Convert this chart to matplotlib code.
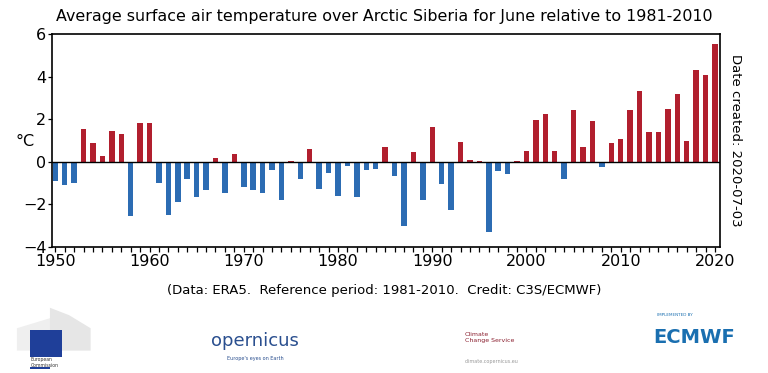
import numpy as np
import matplotlib.pyplot as plt
from matplotlib.patches import Rectangle, Polygon

# June anomalies (°C) relative to 1981-2010
years = list(range(1950, 2021))
anomaly = [
    -0.91, -1.10, -1.00, 1.56, 0.87, 0.27, 1.45, 1.32, -2.54, 1.84,   # 1950s
    1.84, -1.00, -2.50, -1.89, -0.83, -1.67, -1.35, 0.19, -1.46, 0.35,  # 1960s
    -1.17, -1.31, -1.45, -0.39, -1.80, 0.05, -0.82, 0.58, -1.29, -0.54, # 1970s
    -1.61, -0.19, -1.67, -0.41, -0.35, 0.71, -0.68, -3.02, 0.46, -1.78, # 1980s
    1.65, -1.06, -2.28, 0.93, 0.08, 0.05, -3.28, -0.45, -0.57, 0.03,    # 1990s
    0.50, 1.95, 2.24, 0.52, -0.79, 2.44, 0.68, 1.89, -0.24, 0.88,       # 2000s
    1.07, 2.41, 3.32, 1.40, 1.40, 2.47, 3.18, 0.98, 4.31, 4.05,         # 2010s
    5.51,                                                               # 2020
]
year_ticks = [1950, 1960, 1970, 1980, 1990, 2000, 2010, 2020]
temp_ticks = [-4, -2, 0, 2, 4, 6]

red = '#B11F2E'
blue = '#2C6CB3'

fig = plt.figure(figsize=(7.68, 3.73), dpi=100)
ax = fig.add_axes([0.0677, 0.338, 0.87, 0.571])

colors = [red if v > 0 else blue for v in anomaly]
ax.bar(years, anomaly, width=0.58, color=colors, linewidth=0)
ax.axhline(0, color='black', linewidth=1.0)

ax.set_xlim(1949.65, 2020.55)
ax.set_ylim(-4, 6)
ax.set_xticks(year_ticks)
ax.set_xticks(years, minor=True)
ax.set_yticks(temp_ticks)
ax.tick_params(axis='x', which='both', length=3.5, width=0.9, labelsize=11.5, pad=1.5)
ax.tick_params(axis='y', length=3, width=0.9, labelsize=11.5, pad=1)
for s in ax.spines.values():
    s.set_linewidth(1.2)

fig.text(0.5, 0.957, 'Average surface air temperature over Arctic Siberia for June relative to 1981-2010',
         ha='center', va='center', fontsize=11.4)
fig.text(0.033, 0.62, '°C', ha='center', va='center', fontsize=11.5)
fig.text(0.958, 0.625, 'Date created: 2020-07-03', ha='center', va='center',
         rotation=270, fontsize=9.5)
fig.text(0.5, 0.222, '(Data: ERA5.  Reference period: 1981-2010.  Credit: C3S/ECMWF)',
         ha='center', va='center', fontsize=9.5)

# logo strip (approximated with shapes and text)
fig.patches.append(Polygon([(0.022, 0.060), (0.022, 0.120), (0.070, 0.150), (0.070, 0.060)],
                           closed=True, transform=fig.transFigure, facecolor='#EFEFEF', edgecolor='none'))
fig.patches.append(Polygon([(0.065, 0.060), (0.065, 0.175), (0.090, 0.155), (0.118, 0.120), (0.118, 0.060)],
                           closed=True, transform=fig.transFigure, facecolor='#E6E6E6', edgecolor='none'))
fig.patches.append(Rectangle((0.039, 0.043), 0.042, 0.072, transform=fig.transFigure,
                             facecolor='#1F3F99', edgecolor='none'))
fig.patches.append(Rectangle((0.039, 0.012), 0.026, 0.004, transform=fig.transFigure,
                             facecolor='#1F3F99', edgecolor='none'))
fig.text(0.040, 0.028, 'European\nCommission', fontsize=3.3, color='#333333', va='center')
fig.text(0.275, 0.085, 'opernicus', fontsize=13, color='#2A4F8F', va='center')
fig.text(0.295, 0.040, "Europe's eyes on Earth", fontsize=3.5, color='#2A4F8F', va='center')
fig.text(0.605, 0.095, 'Climate\nChange Service', fontsize=4.5, color='#8B2030', va='center')
fig.text(0.605, 0.030, 'climate.copernicus.eu', fontsize=3.5, color='#999999', va='center')
fig.text(0.850, 0.095, 'ECMWF', fontsize=14, fontweight='bold', color='#1A6FB0', va='center')
fig.text(0.855, 0.155, 'IMPLEMENTED BY', fontsize=3, color='#1A6FB0', va='center')

fig.savefig('out.png', dpi=100)
